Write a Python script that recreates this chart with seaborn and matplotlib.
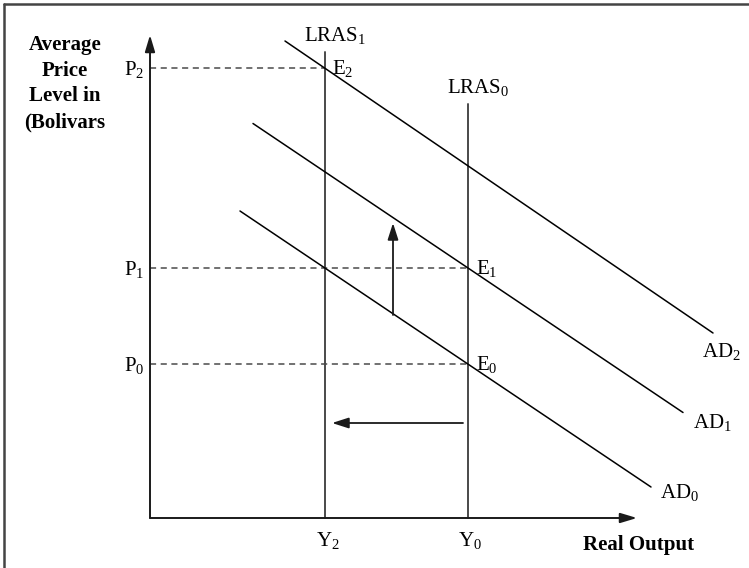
# %% bibliotecas
import matplotlib
matplotlib.use("Agg")
import matplotlib.pyplot as plt
import seaborn as sns

sns.set_style("white")
plt.rcParams['font.family'] = ['Liberation Serif', 'DejaVu Serif']
plt.rcParams['mathtext.fontset'] = 'custom'
plt.rcParams['mathtext.rm'] = 'Liberation Serif'
plt.rcParams['mathtext.it'] = 'Liberation Serif:italic'
plt.rcParams['mathtext.bf'] = 'Liberation Serif:bold'
plt.rcParams['text.color'] = 'black'

# %% dados do grafico (unidades arbitrarias: produto real x nivel de precos)
precos = [3.08, 5.0, 9.0]          # P0, P1, P2
precos_nomes = ['P_0', 'P_1', 'P_2']
produto = [6.36, 3.5]              # Y0, Y2
produto_nomes = ['Y_0', 'Y_2']
lras_topo = [8.28, 9.32]           # altura das curvas LRAS0 e LRAS1
lras_nomes = ['LRAS_0', 'LRAS_1']

# curvas de demanda agregada (pontos extremos)
ad_y = [[1.8, 10.02], [2.06, 10.66], [2.7, 11.26]]
ad_p = [[6.14, 0.62], [7.89, 2.11], [9.54, 3.70]]
ad_nomes = ['AD_0', 'AD_1', 'AD_2']

# equilibrios
eq_nomes = ['E_0', 'E_1', 'E_2']
eq_y = [6.36, 6.36, 3.5]
eq_p = [3.08, 5.0, 9.0]

# setas de deslocamento
seta_ad_y = [4.86, 4.86]
seta_ad_p = [4.06, 5.9]
seta_lras_y = [6.26, 3.64]
seta_lras_p = [1.9, 1.9]

eixo_x_max = 9.74
eixo_y_max = 9.66

# %% figura
fig = plt.figure(figsize=(7.49, 5.68), dpi=100)
ax = fig.add_axes([0, 0, 1, 1])
ax.set_xlim(-3, 11.98)
ax.set_ylim(-1, 10.36)
ax.axis('off')

tam = 15
cinza = '#4a4a4a'

# borda (apenas topo e esquerda)
ax.plot([4 / 749, 1], [1 - 4 / 568, 1 - 4 / 568], transform=ax.transAxes, color='#444444', lw=1.8, clip_on=False)
ax.plot([4 / 749, 4 / 749], [0, 1 - 4 / 568], transform=ax.transAxes, color='#444444', lw=1.8, clip_on=False)

# eixos com setas
seta = dict(arrowstyle='-|>,head_length=1.0,head_width=0.3', color='#1a1a1a', lw=1.4, shrinkA=0, shrinkB=0)
ax.annotate('', xy=(eixo_x_max, 0), xytext=(0, 0), arrowprops=seta)
ax.annotate('', xy=(0, eixo_y_max), xytext=(0, 0), arrowprops=seta)

# LRAS (estimator=None para nao agregar pontos com o mesmo x)
for y, topo in zip(produto, lras_topo):
    sns.lineplot(x=[y, y], y=[0, topo], color=cinza, lw=1.4, ax=ax,
                 estimator=None, sort=False)

# linhas tracejadas dos precos
for p, y in zip(precos, [produto[0], produto[0], produto[1]]):
    sns.lineplot(x=[0, y], y=[p, p], color=cinza, lw=1.1, linestyle=(0, (4, 3)), ax=ax,
                 estimator=None, sort=False)

# AD
for xs, ys in zip(ad_y, ad_p):
    sns.lineplot(x=xs, y=ys, color='black', lw=1.1, ax=ax, estimator=None, sort=False)

# setas de deslocamento
seta2 = dict(arrowstyle='-|>,head_length=1.0,head_width=0.32', color='#1a1a1a', lw=1.3, shrinkA=0, shrinkB=0)
ax.annotate('', xy=(seta_ad_y[1], seta_ad_p[1]), xytext=(seta_ad_y[0], seta_ad_p[0]), arrowprops=seta2)
ax.annotate('', xy=(seta_lras_y[1], seta_lras_p[1]), xytext=(seta_lras_y[0], seta_lras_p[0]), arrowprops=seta2)

# %% textos
def rotulo(nome):
    base, sub = nome.split('_')
    return r'$\mathrm{' + base + '}_{' + sub + '}$'

for p, nome in zip(precos, precos_nomes):
    ax.text(-0.12, p - 0.14, rotulo(nome), ha='right', va='baseline', fontsize=tam)

for y, nome in zip(produto, produto_nomes):
    ax.text(y - 0.19, -0.56, rotulo(nome), ha='left', va='baseline', fontsize=tam)

for y, topo, nome in zip(produto, lras_topo, lras_nomes):
    ax.text(y - 0.42, topo + 0.22, rotulo(nome), ha='left', va='baseline', fontsize=tam)

for y, p, nome in zip(eq_y, eq_p, eq_nomes):
    ax.text(y + 0.15, p - 0.12, rotulo(nome), ha='left', va='baseline', fontsize=tam)

ad_pos = [(10.2, 0.4), (10.86, 1.8), (11.04, 3.22)]
for (x, y), nome in zip(ad_pos, ad_nomes):
    ax.text(x, y, rotulo(nome), ha='left', va='baseline', fontsize=tam)

ax.text(-1.7, 8.69, 'Average\nPrice\nLevel in\n(Bolivars', ha='center', va='center',
        multialignment='center', fontsize=tam, fontweight='bold', linespacing=1.38)
ax.text(8.66, -0.64, 'Real Output', ha='left', va='baseline', fontsize=tam, fontweight='bold')

fig.savefig('out.png', dpi=100)
